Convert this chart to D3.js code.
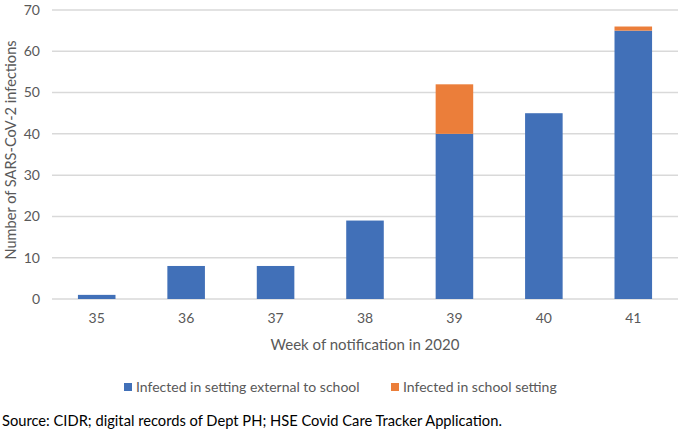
<!DOCTYPE html>
<html lang="en">
<head>
<meta charset="UTF-8">
<title>SARS-CoV-2 infections by week</title>
<script src="https://cdn.jsdelivr.net/npm/d3@7"></script>
<style>
  body{ margin:0; background:#fff; }
  svg{ font-family: Lato, "Open Sans", sans-serif; }
  .grid line{ stroke:#d9d9d9; stroke-width:1.5; }
</style>
</head>
<body>
<svg width="685" height="435"></svg>
<script>
var weeks = ["35","36","37","38","39","40","41"];
var external = [1, 8, 8, 19, 40, 45, 65];
var school = [0, 0, 0, 0, 12, 0, 1];
var yTicks = [0,10,20,30,40,50,60,70];
var seriesNames = ["Infected in setting external to school", "Infected in school setting"];
var colors = ["#4170b8", "#eb7e3a"];

var svg = d3.select("svg");
var plotL = 52, plotR = 678, plotT = 10, plotB = 299;

var x = d3.scaleBand().domain(weeks).range([plotL, plotR]).paddingInner(0.58).paddingOuter(0.29);
var y = d3.scaleLinear().domain([0,70]).range([plotB, plotT]);

// gridlines
svg.append("g").attr("class","grid")
  .selectAll("line").data(yTicks).enter().append("line")
  .attr("x1", plotL).attr("x2", plotR)
  .attr("y1", d => y(d)).attr("y2", d => y(d));

// y tick labels
svg.append("g").selectAll("text").data(yTicks).enter().append("text")
  .attr("x", plotL - 12).attr("y", d => y(d)).attr("dy","0.35em")
  .attr("text-anchor","end").attr("fill","#595959").attr("font-size","14px")
  .text(d => d);

// stacked bars
var rows = weeks.map((w,i) => ({week:w, external:external[i], school:school[i]}));
var stack = d3.stack().keys(["external","school"])(rows);
svg.append("g").selectAll("g").data(stack).enter().append("g")
  .attr("fill", (d,i) => colors[i])
  .selectAll("rect").data(d => d).enter().append("rect")
  .attr("x", d => x(d.data.week))
  .attr("width", x.bandwidth())
  .attr("y", d => y(d[1]))
  .attr("height", d => y(d[0]) - y(d[1]));

// x tick labels
svg.append("g").selectAll("text").data(weeks).enter().append("text")
  .attr("x", d => x(d) + x.bandwidth()/2).attr("y", 323)
  .attr("text-anchor","middle").attr("fill","#595959").attr("font-size","14px")
  .text(d => d);

// axis titles
svg.append("text").attr("x", 365).attr("y", 350)
  .attr("text-anchor","middle").attr("fill","#595959").attr("font-size","15px")
  .text("Week of notification in 2020");
svg.append("text").attr("transform","translate(16,150) rotate(-90)")
  .attr("text-anchor","middle").attr("fill","#595959").attr("font-size","14.6px")
  .text("Number of SARS-CoV-2 infections");

// legend
var legX = [124, 391];
var leg = svg.append("g").selectAll("g").data(seriesNames).enter().append("g")
  .attr("transform", (d,i) => "translate(" + legX[i] + ",387)");
leg.append("rect").attr("x",0).attr("y",-4).attr("width",8).attr("height",8)
  .attr("fill", (d,i) => colors[i]);
leg.append("text").attr("x",12).attr("y",0).attr("dy","0.35em")
  .attr("fill","#595959").attr("font-size","14px").text(d => d);

// source
svg.append("text").attr("x", 2).attr("y", 426)
  .attr("fill","#000").attr("font-size","14.7px")
  .text("Source: CIDR; digital records of Dept PH; HSE Covid Care Tracker Application.");
</script>
</body>
</html>
